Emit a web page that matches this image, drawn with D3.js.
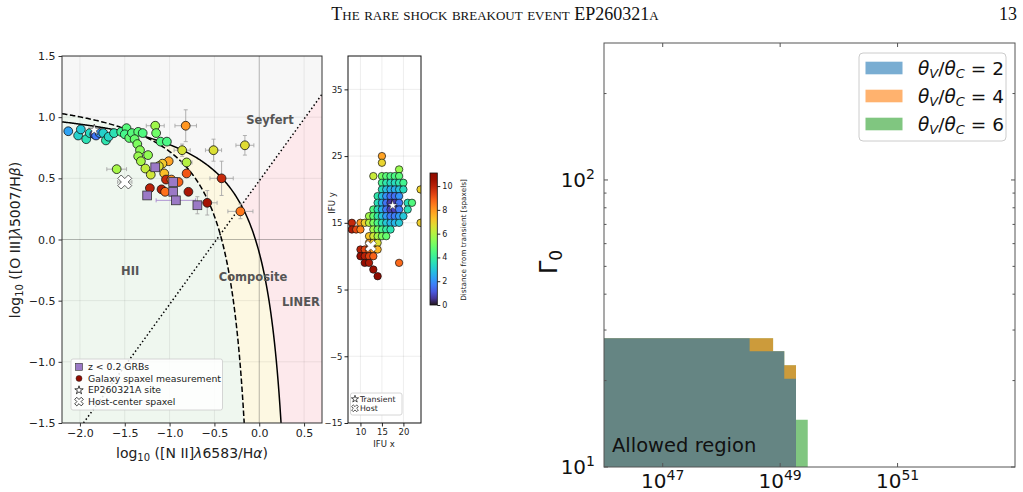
<!DOCTYPE html>
<html>
<head>
<meta charset="utf-8">
<script src="https://cdn.jsdelivr.net/npm/d3@7"></script>
<style>
  body { margin: 0; background: white; }
</style>
</head>
<body>
<div id="container"></div>
<script>
// ---------- data ----------
// BPT spaxels: [log NII/Ha, log OIII/Hb, distance from transient, xerr, yerr]
const spaxelBPT = [
  [-2.13, 0.885, 2.3], [-2.02, 0.85, 3.2], [-1.99, 0.90, 3.0], [-1.93, 0.82, 3.6],
  [-1.89, 0.87, 3.4], [-1.84, 0.86, 1.0], [-1.82, 0.85, 1.6], [-1.78, 0.87, 2.0],
  [-1.74, 0.87, 3.2], [-1.71, 0.81, 3.7], [-1.68, 0.84, 3.3], [-1.62, 0.87, 3.6],
  [-1.54, 0.88, 4.2], [-1.48, 0.91, 4.6], [-1.50, 0.86, 4.3], [-1.45, 0.83, 4.8],
  [-1.42, 0.87, 4.6], [-1.35, 0.88, 4.7], [-1.30, 0.87, 4.5], [-1.39, 0.82, 4.9],
  [-1.36, 0.78, 5.2], [-1.33, 0.73, 5.4], [-1.35, 0.68, 5.6], [-1.24, 0.69, 5.5],
  [-1.32, 0.64, 5.8], [-1.27, 0.58, 6.2], [-1.16, 0.93, 5.7, 0.10, 0.03], [-1.15, 0.87, 5.0],
  [-1.10, 0.80, 4.5], [-1.03, 0.80, 4.4], [-1.59, 0.575, 5.8, 0.11, 0.02],
  [-0.86, 0.73, 6.5, 0.09, 0.05], [-0.82, 0.93, 8.0, 0.12, 0.13], [-0.51, 0.73, 6.6, 0.09, 0.09],
  [-0.16, 0.77, 6.7, 0.10, 0.08], [-0.81, 0.63, 6.0, 0.06, 0.03], [-1.01, 0.64, 7.8],
  [-1.08, 0.62, 7.1], [-1.12, 0.60, 6.6], [-1.21, 0.53, 6.4], [-1.06, 0.54, 7.3],
  [-0.81, 0.54, 9.0], [-1.04, 0.49, 9.8], [-0.98, 0.49, 8.1], [-0.90, 0.47, 8.8],
  [-1.22, 0.42, 10.0], [-1.09, 0.41, 10.1], [-1.05, 0.39, 8.6], [-0.79, 0.39, 10.3],
  [-0.42, 0.50, 9.8, 0.13, 0.14], [-0.58, 0.30, 10.4, 0.11, 0.10], [-0.21, 0.23, 8.5, 0.14, 0.06]
];
// z < 0.2 GRB hosts: [x, y, xerr, yerr]
const grbHosts = [
  [-1.16, 0.59, 0, 0], [-0.96, 0.47, 0, 0], [-0.96, 0.39, 0, 0],
  [-1.25, 0.36, 0, 0], [-0.93, 0.32, 0.22, 0], [-0.69, 0.28, 0, 0.07]
];
const transientBPT = [-1.84, 0.895];
const hostBPT = [-1.50, 0.47, 0.08];

const bptXTicks = [-2.0, -1.5, -1.0, -0.5, 0.0, 0.5];
const bptYTicks = [-1.5, -1.0, -0.5, 0.0, 0.5, 1.0, 1.5];
const bptLegend = ['z < 0.2 GRBs', 'Galaxy spaxel measurement', 'EP260321A site', 'Host-center spaxel'];

// IFU map: row y -> list of x spaxels
const ifuRowY = [25, 24, 23, 22, 21, 20, 19, 18, 17, 16, 15, 14, 13, 12, 11, 10, 9, 8, 7];
const ifuRowX = [
  [15], [15], [19],
  [13, 15, 16, 17, 18, 19],
  [15, 16, 17, 18, 19, 20],
  [15, 16, 17, 18, 19, 20, 24],
  [14, 15, 16, 17, 18, 19],
  [14, 15, 16, 17, 18, 19, 21, 22],
  [13, 14, 15, 16, 17, 18, 19, 21],
  [12, 13, 14, 15, 16, 17, 18, 19, 20],
  [8, 10, 11, 12, 13, 14, 15, 16, 17, 18, 19, 24],
  [8, 9, 10, 13, 14, 15, 16, 17],
  [12, 13, 14, 15, 16],
  [12, 13, 14],
  [10, 11, 12, 13, 14],
  [10, 11, 12, 13],
  [11, 12, 19],
  [13],
  [14]
];
const transientIFU = [17.5, 17.6];
const hostIFU = [12.4, 11.5];
const ifuXTicks = [10, 15, 20];
const ifuYTicks = [-15, -5, 5, 15, 25, 35];
const cbarTicks = [0, 2, 4, 6, 8, 10];

// allowed regions: [log10 E_lo, log10 E_hi, Gamma_max]
const thetaRatios = [2, 4, 6];
const allowed2 = [[46, 48.48, 28.1], [48.48, 49.07, 25.3], [49.07, 49.27, 20.3]];
const allowed4 = [[46, 48.88, 28.1], [48.88, 49.07, 25.3], [49.07, 49.27, 22.6]];
const allowed6 = [[46, 48.88, 28.1], [48.88, 49.07, 25.3], [49.07, 49.27, 22.6], [49.27, 49.47, 14.6]];
const regionColors = ['#1f77b4', '#ff7f0e', '#2ca02c'];
const eTickExps = [47, 49, 51];

// ---------- page ----------
let w = 1023;
let h = 492;
let svg = d3.select('#container')
  .append('svg')
    .attr('width', w)
    .attr('height', h)
    .style('background-color', 'white')
    .style('font-family', '"DejaVu Sans", sans-serif');

svg.append('text')
  .attr('x', 495).attr('y', 20).attr('text-anchor', 'middle')
  .style('font-family', '"Liberation Serif", "DejaVu Serif", serif')
  .style('font-variant', 'small-caps').style('font-size', '18px').attr('fill', '#111')
  .text('The rare shock breakout event EP260321a');
svg.append('text')
  .attr('x', 1017).attr('y', 20).attr('text-anchor', 'end')
  .style('font-family', '"Liberation Serif", "DejaVu Serif", serif')
  .style('font-size', '18px').attr('fill', '#111')
  .text('13');

const turbo = d3.scaleSequential(d3.interpolateTurbo).domain([0, 11.1]);

function xMarker(s) {
  const t = s * 0.32;
  const pts = [[t, s], [t, t], [s, t], [s, -t], [t, -t], [t, -s], [-t, -s], [-t, -t], [-s, -t], [-s, t], [-t, t], [-t, s]];
  const r = Math.PI / 4;
  return 'M' + pts.map(([x, y]) => [x * Math.cos(r) - y * Math.sin(r), x * Math.sin(r) + y * Math.cos(r)]
    .map(v => v.toFixed(2)).join(',')).join('L') + 'Z';
}
const starPath = size => d3.symbol().type(d3.symbolStar).size(size)();

// ---------- BPT panel ----------
const bL = 62, bR = 322, bT = 56, bB = 423;
const bx = d3.scaleLinear().domain([-2.2, 0.7]).range([bL, bR]);
const by = d3.scaleLinear().domain([-1.5, 1.5]).range([bB, bT]);

let defs = svg.append('defs');
defs.append('clipPath').attr('id', 'clipBpt')
  .append('rect').attr('x', bL).attr('y', bT).attr('width', bR - bL).attr('height', bB - bT);
defs.append('clipPath').attr('id', 'clipIfu')
  .append('rect').attr('x', 348).attr('y', 56).attr('width', 73).attr('height', 367);

let bpt = svg.append('g').attr('clip-path', 'url(#clipBpt)');

// demarcation curves y = c/(x-a)+b (Kewley 2001, Kauffmann 2003)
function demarcation(c, a, b) {
  const xEnd = a + c / (-1.5 - b);
  return d3.range(-2.2, xEnd, 0.01).concat([xEnd]).map(x => [x, c / (x - a) + b]);
}
const kewley = demarcation(0.61, 0.47, 1.19);
const kauffmann = demarcation(0.61, 0.05, 1.3);
const cidSlope = 1.01, cidIcpt = 0.48;
const toPx = pts => pts.map(p => [bx(p[0]), by(p[1])]);
const below = pts => d3.line()(toPx(pts.concat([[pts[pts.length - 1][0], -1.5], [-2.2, -1.5]]))) + 'Z';

bpt.append('rect').attr('x', bL).attr('y', bT).attr('width', bR - bL).attr('height', bB - bT).attr('fill', '#f7f7f7');
bpt.append('path')
  .attr('d', d3.line()(toPx([[(-1.5 - cidIcpt) / cidSlope, -1.5], [0.7, cidSlope * 0.7 + cidIcpt], [0.7, -1.5]])) + 'Z')
  .attr('fill', '#fde9ec');
bpt.append('path').attr('d', below(kewley)).attr('fill', '#fdf8e2');
bpt.append('path').attr('d', below(kauffmann)).attr('fill', '#eff7ef');

// grid
bpt.selectAll('.gx').data(bptXTicks).enter().append('line')
  .attr('x1', d => bx(d)).attr('x2', d => bx(d)).attr('y1', bT).attr('y2', bB)
  .attr('stroke', '#000').attr('stroke-opacity', d => d === 0 ? 0.28 : 0.07).attr('stroke-width', 1);
bpt.selectAll('.gy').data(bptYTicks).enter().append('line')
  .attr('y1', d => by(d)).attr('y2', d => by(d)).attr('x1', bL).attr('x2', bR)
  .attr('stroke', '#000').attr('stroke-opacity', d => d === 0 ? 0.28 : 0.07).attr('stroke-width', 1);

bpt.append('path').attr('d', d3.line()(toPx(kewley))).attr('fill', 'none').attr('stroke', '#000').attr('stroke-width', 1.5);
bpt.append('path').attr('d', d3.line()(toPx(kauffmann))).attr('fill', 'none').attr('stroke', '#000')
  .attr('stroke-width', 1.5).attr('stroke-dasharray', '5.5,2.5');
bpt.append('line')
  .attr('x1', bx((-1.5 - cidIcpt) / cidSlope)).attr('y1', by(-1.5))
  .attr('x2', bx(0.7)).attr('y2', by(cidSlope * 0.7 + cidIcpt))
  .attr('stroke', '#000').attr('stroke-width', 1.5).attr('stroke-dasharray', '1.5,2.5');

const regionLabels = [['Seyfert', 0.12, 0.98], ['HII', -1.44, -0.26], ['Composite', -0.07, -0.31], ['LINER', 0.465, -0.51]];
bpt.selectAll('.rl').data(regionLabels).enter().append('text')
  .attr('x', d => bx(d[1])).attr('y', d => by(d[2])).attr('text-anchor', 'middle').attr('dy', '0.35em')
  .style('font-size', '11.5px').style('font-weight', 'bold').attr('fill', '#555').text(d => d[0]);

// error bars
function errBars(g, x, y, xe, ye, col) {
  if (xe) {
    g.append('line').attr('x1', bx(x - xe)).attr('x2', bx(x + xe)).attr('y1', by(y)).attr('y2', by(y)).attr('stroke', col);
    [x - xe, x + xe].forEach(v => g.append('line').attr('x1', bx(v)).attr('x2', bx(v)).attr('y1', by(y) - 2).attr('y2', by(y) + 2).attr('stroke', col));
  }
  if (ye) {
    g.append('line').attr('y1', by(y - ye)).attr('y2', by(y + ye)).attr('x1', bx(x)).attr('x2', bx(x)).attr('stroke', col);
    [y - ye, y + ye].forEach(v => g.append('line').attr('y1', by(v)).attr('y2', by(v)).attr('x1', bx(x) - 2).attr('x2', bx(x) + 2).attr('stroke', col));
  }
}
let errG = bpt.append('g').attr('stroke-width', 0.9);
spaxelBPT.forEach(d => errBars(errG, d[0], d[1], d[3], d[4], '#a8a8a8'));
grbHosts.forEach(d => errBars(errG, d[0], d[1], d[2], 0, '#a98ad0'));
grbHosts.forEach(d => errBars(errG, d[0], d[1], 0, d[3], '#a8a8a8'));
errBars(errG, hostBPT[0], hostBPT[1], hostBPT[2], 0, '#a8a8a8');

bpt.selectAll('.sp').data(spaxelBPT).enter().append('circle')
  .attr('cx', d => bx(d[0])).attr('cy', d => by(d[1])).attr('r', 4.4)
  .attr('fill', d => turbo(d[2])).attr('stroke', '#111').attr('stroke-width', 0.8);
bpt.selectAll('.grb').data(grbHosts).enter().append('rect')
  .attr('x', d => bx(d[0]) - 4.4).attr('y', d => by(d[1]) - 4.4).attr('width', 8.8).attr('height', 8.8)
  .attr('fill', '#9b79c6').attr('stroke', '#333').attr('stroke-width', 0.8);
bpt.append('path').attr('d', starPath(40)).attr('transform', `translate(${bx(transientBPT[0])},${by(transientBPT[1])})`)
  .attr('fill', 'white').attr('stroke', '#222').attr('stroke-width', 0.6);
bpt.append('path').attr('d', xMarker(7.5)).attr('transform', `translate(${bx(hostBPT[0])},${by(hostBPT[1])})`)
  .attr('fill', 'white').attr('stroke', '#222').attr('stroke-width', 0.7);

// axes
let bxAxis = svg.append('g').attr('transform', `translate(0,${bB})`)
  .call(d3.axisBottom(bx).tickValues(bptXTicks).tickFormat(d3.format('.1f')).tickSize(3.5).tickPadding(3));
let byAxis = svg.append('g').attr('transform', `translate(${bL},0)`)
  .call(d3.axisLeft(by).tickValues(bptYTicks).tickFormat(d3.format('.1f')).tickSize(3.5).tickPadding(3));
[bxAxis, byAxis].forEach(a => {
  a.select('.domain').remove();
  a.selectAll('text').style('font-size', '11px').style('font-family', '"DejaVu Sans", sans-serif').attr('fill', '#222');
  a.selectAll('line').attr('stroke', '#333');
});
svg.append('rect').attr('x', bL).attr('y', bT).attr('width', bR - bL).attr('height', bB - bT)
  .attr('fill', 'none').attr('stroke', '#333').attr('stroke-width', 1);

let xl = svg.append('text').attr('x', 192).attr('y', 458).attr('text-anchor', 'middle').style('font-size', '14px').attr('fill', '#222');
xl.append('tspan').text('log');
xl.append('tspan').text('10').style('font-size', '10px').attr('dy', 3);
xl.append('tspan').text(' ([N II]').attr('dy', -3);
xl.append('tspan').text('λ').style('font-style', 'italic');
xl.append('tspan').text('6583/H');
xl.append('tspan').text('α').style('font-style', 'italic');
xl.append('tspan').text(')');

let yl = svg.append('text').attr('transform', 'translate(20,240) rotate(-90)').attr('text-anchor', 'middle').style('font-size', '14px').attr('fill', '#222');
yl.append('tspan').text('log');
yl.append('tspan').text('10').style('font-size', '10px').attr('dy', 3);
yl.append('tspan').text(' ([O III]').attr('dy', -3);
yl.append('tspan').text('λ').style('font-style', 'italic');
yl.append('tspan').text('5007/H');
yl.append('tspan').text('β').style('font-style', 'italic');
yl.append('tspan').text(')');

// legend
let lg = svg.append('g');
lg.append('rect').attr('x', 71).attr('y', 359).attr('width', 151.5).attr('height', 51).attr('rx', 2)
  .attr('fill', 'white').attr('fill-opacity', 0.85).attr('stroke', '#ccc').attr('stroke-width', 0.8);
bptLegend.forEach((t, i) => {
  const cy = 366.8 + i * 11.6;
  lg.append('text').attr('x', 88).attr('y', cy + 3.4).style('font-size', '9.3px').attr('fill', '#222').text(t);
});
lg.append('rect').attr('x', 75.5).attr('y', 363.3).attr('width', 7).attr('height', 7).attr('fill', '#9b79c6').attr('stroke', '#333').attr('stroke-width', 0.6);
lg.append('circle').attr('cx', 79).attr('cy', 378.4).attr('r', 3).attr('fill', d3.interpolateTurbo(1)).attr('stroke', '#222').attr('stroke-width', 0.5);
lg.append('path').attr('d', starPath(22)).attr('transform', 'translate(79,390.2)').attr('fill', 'white').attr('stroke', '#111').attr('stroke-width', 0.8);
lg.append('path').attr('d', xMarker(4.6)).attr('transform', 'translate(79,401.6)').attr('fill', 'white').attr('stroke', '#111').attr('stroke-width', 0.8);

// ---------- IFU panel ----------
const iL = 348, iR = 421, iT = 56, iB = 423;
const ix = d3.scaleLinear().domain([7.1, 24.1]).range([iL, iR]);
const iy = d3.scaleLinear().domain([-15, 40]).range([iB, iT]);
const ifuSpaxels = ifuRowY.flatMap((y, k) => ifuRowX[k].map(x => [x, y]));

let ifu = svg.append('g').attr('clip-path', 'url(#clipIfu)');
ifu.selectAll('.vx').data(ifuXTicks).enter().append('line')
  .attr('x1', d => ix(d)).attr('x2', d => ix(d)).attr('y1', iT).attr('y2', iB).attr('stroke', '#000').attr('stroke-opacity', 0.07);
ifu.selectAll('.vy').data(ifuYTicks).enter().append('line')
  .attr('y1', d => iy(d)).attr('y2', d => iy(d)).attr('x1', iL).attr('x2', iR).attr('stroke', '#000').attr('stroke-opacity', 0.07);
ifu.selectAll('.px').data(ifuSpaxels).enter().append('circle')
  .attr('cx', d => ix(d[0])).attr('cy', d => iy(d[1])).attr('r', 3.7)
  .attr('fill', d => turbo(Math.hypot(d[0] - transientIFU[0], d[1] - transientIFU[1])))
  .attr('stroke', '#111').attr('stroke-width', 0.7);
ifu.append('path').attr('d', starPath(28)).attr('transform', `translate(${ix(transientIFU[0])},${iy(transientIFU[1])})`)
  .attr('fill', 'white').attr('stroke', '#222').attr('stroke-width', 0.4);
ifu.append('path').attr('d', xMarker(6)).attr('transform', `translate(${ix(hostIFU[0])},${iy(hostIFU[1])})`)
  .attr('fill', 'white').attr('stroke', '#222').attr('stroke-width', 0.5);

let ixAxis = svg.append('g').attr('transform', `translate(0,${iB})`)
  .call(d3.axisBottom(ix).tickValues(ifuXTicks).tickSize(3.5).tickPadding(2));
let iyAxis = svg.append('g').attr('transform', `translate(${iL},0)`)
  .call(d3.axisLeft(iy).tickValues(ifuYTicks).tickSize(3.5).tickPadding(2).tickFormat(d => d < 0 ? '\u2212' + Math.abs(d) : d));
[ixAxis, iyAxis].forEach(a => {
  a.select('.domain').remove();
  a.selectAll('text').style('font-size', '8.5px').style('font-family', '"DejaVu Sans", sans-serif').attr('fill', '#222');
  a.selectAll('line').attr('stroke', '#222');
});
svg.append('rect').attr('x', iL).attr('y', iT).attr('width', iR - iL).attr('height', iB - iT)
  .attr('fill', 'none').attr('stroke', '#111').attr('stroke-width', 1);
svg.append('text').attr('x', 384).attr('y', 446.5).attr('text-anchor', 'middle').style('font-size', '8.5px').attr('fill', '#222').text('IFU x');
svg.append('text').attr('transform', 'translate(335,203) rotate(-90)').attr('text-anchor', 'middle').style('font-size', '8.5px').attr('fill', '#222').text('IFU y');

let il = svg.append('g');
il.append('rect').attr('x', 350.5).attr('y', 393).attr('width', 51.5).attr('height', 22).attr('rx', 2)
  .attr('fill', 'white').attr('stroke', '#ccc').attr('stroke-width', 0.8);
il.append('path').attr('d', starPath(16)).attr('transform', 'translate(355,399)').attr('fill', 'white').attr('stroke', '#111').attr('stroke-width', 0.7);
il.append('path').attr('d', xMarker(3.6)).attr('transform', 'translate(355,408.3)').attr('fill', 'white').attr('stroke', '#111').attr('stroke-width', 0.7);
il.append('text').attr('x', 360).attr('y', 401.8).style('font-size', '7.8px').attr('fill', '#222').text('Transient');
il.append('text').attr('x', 360).attr('y', 411.2).style('font-size', '7.8px').attr('fill', '#222').text('Host');

// colorbar
const cb = d3.scaleLinear().domain([0, 11.1]).range([305, 173]);
let grad = defs.append('linearGradient').attr('id', 'cbGrad').attr('x1', 0).attr('x2', 0).attr('y1', 1).attr('y2', 0);
d3.range(0, 1.0001, 0.05).forEach(t => grad.append('stop').attr('offset', t).attr('stop-color', d3.interpolateTurbo(t)));
svg.append('rect').attr('x', 430).attr('y', 173).attr('width', 7.3).attr('height', 132)
  .attr('fill', 'url(#cbGrad)').attr('stroke', '#111').attr('stroke-width', 0.8);
let cbAxis = svg.append('g').attr('transform', 'translate(437.3,0)')
  .call(d3.axisRight(cb).tickValues(cbarTicks).tickSize(3).tickPadding(2));
cbAxis.select('.domain').remove();
cbAxis.selectAll('text').style('font-size', '8px').style('font-family', '"DejaVu Sans", sans-serif').attr('fill', '#222');
cbAxis.selectAll('line').attr('stroke', '#222');
svg.append('text').attr('transform', 'translate(466,240) rotate(-90)').attr('text-anchor', 'middle')
  .style('font-size', '7.3px').attr('fill', '#222').text('Distance from transient [spaxels]');

// ---------- allowed region panel ----------
const gL = 604, gR = 1015, gT = 43, gB = 467;
const gx = d3.scaleLog().domain([1e46, 1e53]).range([gL, gR]);
const gy = d3.scaleLog().domain([10, 300]).range([gB, gT]);

function stairPath(steps) {
  const pts = [];
  steps.forEach(s => { pts.push([s[0], s[2]]); pts.push([s[1], s[2]]); });
  pts.push([steps[steps.length - 1][1], 10]);
  pts.push([steps[0][0], 10]);
  return d3.line()(pts.map(p => [gx(Math.pow(10, p[0])), gy(p[1])])) + 'Z';
}
[allowed6, allowed4, allowed2].forEach((steps, k) => {
  svg.append('path').attr('d', stairPath(steps))
    .attr('fill', regionColors[2 - k]).attr('fill-opacity', 0.6).attr('stroke', 'none');
});

svg.append('text').attr('x', 612).attr('y', 451.5).style('font-size', '19.5px').attr('fill', '#111').text('Allowed region');

// frame and inward ticks
let fr = svg.append('g').attr('stroke', '#555').attr('stroke-width', 1);
fr.append('rect').attr('x', gL).attr('y', gT).attr('width', gR - gL).attr('height', gB - gT).attr('fill', 'none');
eTickExps.forEach(e => {
  const x = gx(Math.pow(10, e));
  fr.append('line').attr('x1', x).attr('x2', x).attr('y1', gB).attr('y2', gB - 4);
  fr.append('line').attr('x1', x).attr('x2', x).attr('y1', gT).attr('y2', gT + 4);
});
const gMajor = [10, 100];
const gMinor = [20, 30, 40, 50, 60, 70, 80, 90, 200];
gMajor.concat(gMinor).forEach(v => {
  const y = gy(v), len = gMajor.includes(v) ? 4 : 2.5;
  fr.append('line').attr('x1', gL).attr('x2', gL + len).attr('y1', y).attr('y2', y);
  fr.append('line').attr('x1', gR).attr('x2', gR - len).attr('y1', y).attr('y2', y);
});

eTickExps.forEach(e => {
  const t = svg.append('text').attr('x', gx(Math.pow(10, e))).attr('y', 488).attr('text-anchor', 'middle')
    .style('font-size', '20px').attr('fill', '#111');
  t.append('tspan').text('10');
  t.append('tspan').text(e).style('font-size', '14px').attr('dy', -8);
});
[[100, '2'], [10, '1']].forEach(([v, e]) => {
  const t = svg.append('text').attr('x', 595).attr('y', gy(v) + 7).attr('text-anchor', 'end')
    .style('font-size', '20px').attr('fill', '#111');
  t.append('tspan').text('10');
  t.append('tspan').text(e).style('font-size', '14px').attr('dy', -8);
});
let gl = svg.append('text').attr('transform', 'translate(557,262) rotate(-90)').attr('text-anchor', 'middle')
  .style('font-size', '24px').attr('fill', '#111');
gl.append('tspan').text('Γ');
gl.append('tspan').text('0').style('font-size', '17px').attr('dy', 5);

// legend
let rl = svg.append('g');
rl.append('rect').attr('x', 859).attr('y', 53).attr('width', 147).attr('height', 88).attr('rx', 4)
  .attr('fill', 'white').attr('fill-opacity', 0.8).attr('stroke', '#ccc').attr('stroke-width', 1);
thetaRatios.forEach((r, i) => {
  const cy = 68 + i * 28;
  rl.append('rect').attr('x', 865.5).attr('y', cy - 6.3).attr('width', 37).attr('height', 12.6)
    .attr('fill', regionColors[i]).attr('fill-opacity', 0.6);
  const t = rl.append('text').attr('x', 918).attr('y', cy + 6.5).style('font-size', '18.5px').attr('fill', '#111');
  t.append('tspan').text('θ').style('font-style', 'italic');
  t.append('tspan').text('V').style('font-style', 'italic').style('font-size', '13px').attr('dy', 3.5);
  t.append('tspan').text('/').attr('dy', -3.5);
  t.append('tspan').text('θ').style('font-style', 'italic');
  t.append('tspan').text('C').style('font-style', 'italic').style('font-size', '13px').attr('dy', 3.5);
  t.append('tspan').text(' = ' + r).attr('dy', -3.5);
});
</script>
</body>
</html>
